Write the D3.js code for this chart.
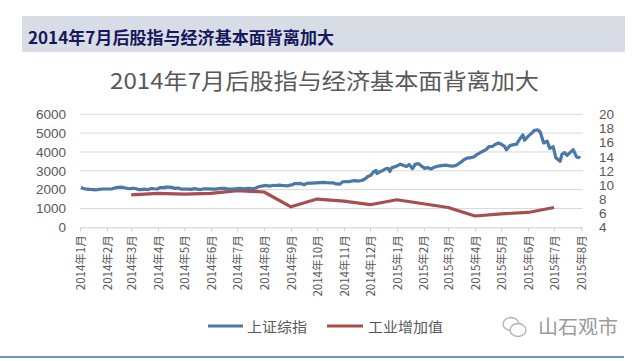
<!DOCTYPE html>
<html><head><meta charset="utf-8">
<script src="https://cdn.jsdelivr.net/npm/d3@7"></script>
<style>
html,body{margin:0;padding:0;background:#fff;}
svg{display:block;}
</style></head>
<body>
<script>
// ---- data ----
const headerText = "2014年7月后股指与经济基本面背离加大";
const chartTitle = "2014年7月后股指与经济基本面背离加大";
const seriesNames = ["上证综指", "工业增加值"];
const watermark = "山石观市";
const leftTicks = [0, 1000, 2000, 3000, 4000, 5000, 6000];
const rightTicks = [4, 6, 8, 10, 12, 14, 16, 18, 20];
const monthLabels = ["2014年1月","2014年2月","2014年3月","2014年4月","2014年5月","2014年6月","2014年7月","2014年8月","2014年9月","2014年10月","2014年11月","2014年12月","2015年1月","2015年2月","2015年3月","2015年4月","2015年5月","2015年6月","2015年7月","2015年8月"];

// 上证综指 (date, close)
const indexDates = ["2014-01-02","2014-01-06","2014-01-09","2014-01-13","2014-01-16","2014-01-20","2014-01-23","2014-01-27","2014-01-30","2014-02-07","2014-02-11","2014-02-14","2014-02-18","2014-02-20","2014-02-24","2014-02-27","2014-03-03","2014-03-06","2014-03-10","2014-03-12","2014-03-17","2014-03-20","2014-03-24","2014-03-27","2014-03-31","2014-04-03","2014-04-08","2014-04-10","2014-04-14","2014-04-17","2014-04-21","2014-04-24","2014-04-28","2014-04-30","2014-05-06","2014-05-09","2014-05-13","2014-05-16","2014-05-20","2014-05-23","2014-05-27","2014-05-30","2014-06-04","2014-06-06","2014-06-10","2014-06-13","2014-06-17","2014-06-20","2014-06-24","2014-06-27","2014-06-30","2014-07-03","2014-07-07","2014-07-10","2014-07-14","2014-07-17","2014-07-22","2014-07-24","2014-07-28","2014-07-31","2014-08-04","2014-08-07","2014-08-11","2014-08-14","2014-08-18","2014-08-21","2014-08-25","2014-08-28","2014-08-29","2014-09-03","2014-09-05","2014-09-09","2014-09-12","2014-09-16","2014-09-19","2014-09-23","2014-09-26","2014-09-30","2014-10-09","2014-10-13","2014-10-16","2014-10-20","2014-10-23","2014-10-27","2014-10-30","2014-10-31","2014-11-04","2014-11-07","2014-11-11","2014-11-14","2014-11-18","2014-11-21","2014-11-24","2014-11-27","2014-11-28","2014-12-02","2014-12-05","2014-12-08","2014-12-09","2014-12-12","2014-12-16","2014-12-19","2014-12-22","2014-12-24","2014-12-26","2014-12-31","2015-01-05","2015-01-08","2015-01-12","2015-01-15","2015-01-19","2015-01-22","2015-01-26","2015-01-29","2015-02-02","2015-02-05","2015-02-09","2015-02-12","2015-02-17","2015-02-26","2015-03-03","2015-03-06","2015-03-10","2015-03-13","2015-03-17","2015-03-20","2015-03-24","2015-03-27","2015-03-31","2015-04-03","2015-04-08","2015-04-10","2015-04-14","2015-04-17","2015-04-21","2015-04-24","2015-04-28","2015-04-30","2015-05-05","2015-05-07","2015-05-11","2015-05-14","2015-05-19","2015-05-22","2015-05-26","2015-05-28","2015-06-01","2015-06-04","2015-06-08","2015-06-12","2015-06-15","2015-06-19","2015-06-23","2015-06-26","2015-06-30","2015-07-03","2015-07-08","2015-07-10","2015-07-13","2015-07-16","2015-07-20","2015-07-23","2015-07-27","2015-07-30","2015-07-31"];
const indexValues = [2109,2045,2028,2009,2004,1992,2017,2033,2033,2044,2104,2115,2131,2114,2076,2047,2075,2059,1999,1997,2024,1993,2066,2046,2033,2105,2109,2134,2131,2105,2065,2089,2020,2026,2028,2011,2051,2026,2005,2035,2041,2039,2024,2029,2052,2071,2066,2026,2034,2036,2048,2064,2059,2038,2066,2055,2075,2124,2178,2201,2223,2188,2221,2219,2239,2226,2214,2195,2217,2267,2327,2318,2331,2255,2329,2343,2347,2364,2389,2366,2356,2356,2302,2290,2391,2420,2430,2418,2469,2478,2456,2487,2532,2630,2683,2763,2938,3020,2856,2938,3021,3108,3128,2968,3157,3235,3351,3294,3229,3336,3116,3343,3383,3262,3129,3174,3095,3173,3246,3298,3263,3241,3286,3373,3502,3617,3691,3691,3748,3864,3995,4034,4135,4287,4293,4394,4476,4441,4298,4112,4333,4375,4417,4658,4910,4620,4828,4947,5131,5178,5062,4478,4576,4192,4277,3687,3507,3878,3970,3823,3992,4124,3725,3705,3664];

// 工业增加值 (%)
const ivaDates = ["2014-03-01","2014-04-01","2014-05-01","2014-06-01","2014-07-01","2014-08-01","2014-09-01","2014-10-01","2014-11-01","2014-12-01","2015-01-01","2015-03-01","2015-04-01","2015-05-01","2015-06-01","2015-07-01"];
const ivaValues = [8.6,8.8,8.7,8.8,9.2,9.0,6.9,8.0,7.7,7.2,7.9,6.8,5.6,5.9,6.1,6.8];

// ---- drawing ----
const W = 640, H = 361;
const parse = d3.timeParse("%Y-%m-%d");
const svg = d3.select("body").append("svg").attr("width", W).attr("height", H);
const cjk = "'Noto Sans CJK SC', 'Noto Sans', sans-serif";
const grey = "#595959";

// header band
svg.append("rect").attr("x", 22).attr("y", 16).attr("width", 603).attr("height", 36).attr("fill", "#d7dce5");
svg.append("text").attr("x", 28).attr("y", 44).text(headerText)
  .attr("font-family", cjk).attr("font-size", 16.5).attr("font-weight", 700).attr("fill", "#17175e")
  .attr("textLength", 306).attr("lengthAdjust", "spacingAndGlyphs");

// chart title
svg.append("text").attr("x", 110).attr("y", 89).text(chartTitle)
  .attr("font-family", cjk).attr("font-size", 22).attr("fill", grey)
  .attr("textLength", 429).attr("lengthAdjust", "spacingAndGlyphs");

const x = d3.scaleTime().domain([new Date(2014, 0, 1), new Date(2015, 7, 1)]).range([80, 581]);
const yL = d3.scaleLinear().domain([0, 6000]).range([227.3, 114.3]);
const yR = d3.scaleLinear().domain([4, 20]).range([227.3, 114.3]);

// gridlines
svg.append("g").selectAll("line").data(leftTicks.filter(d => d > 0)).join("line")
  .attr("x1", 80).attr("x2", 583).attr("y1", d => yL(d)).attr("y2", d => yL(d))
  .attr("stroke", "#d9d9d9").attr("stroke-width", 1);

// left axis
const gL = svg.append("g").attr("transform", "translate(80,0)")
  .call(d3.axisLeft(yL).tickValues(leftTicks).tickFormat(d3.format("d")).tickSize(0).tickPadding(14));
gL.select(".domain").remove();
gL.selectAll("text").attr("font-family", "'Liberation Sans', Arial, sans-serif").attr("font-size", 13.5).attr("fill", grey);

// right axis
const gR = svg.append("g").attr("transform", "translate(583,0)")
  .call(d3.axisRight(yR).tickValues(rightTicks).tickFormat(d3.format("d")).tickSize(0).tickPadding(16));
gR.select(".domain").remove();
gR.selectAll("text").attr("font-family", "'Liberation Sans', Arial, sans-serif").attr("font-size", 13.5).attr("fill", grey);

// bottom axis
const monthDates = d3.timeMonth.range(new Date(2014, 0, 1), new Date(2015, 7, 2));
const gX = svg.append("g").attr("transform", `translate(0,${yL(0)})`)
  .call(d3.axisBottom(x).tickValues(monthDates).tickFormat((d, i) => monthLabels[i]).tickSizeInner(4).tickSizeOuter(0));
gX.select(".domain").attr("stroke", "#d0d0d0").attr("d", "M80,0.5H583");
gX.selectAll(".tick line").attr("stroke", "#d0d0d0");
gX.selectAll("text")
  .attr("font-family", cjk).attr("font-size", 11.5).attr("fill", grey)
  .attr("text-anchor", "end").attr("transform", "rotate(-90)")
  .attr("x", -8).attr("y", 0).attr("dy", "0.36em");

// lines
const indexData = indexDates.map((d, i) => ({ date: parse(d), v: indexValues[i] }));
const ivaData = ivaDates.map((d, i) => ({ date: parse(d), v: ivaValues[i] }));
const blue = "#4a78a8", red = "#a84e4e";

svg.append("path").datum(ivaData)
  .attr("d", d3.line().x(d => x(d.date)).y(d => yR(d.v)))
  .attr("fill", "none").attr("stroke", red).attr("stroke-width", 3.2).attr("stroke-linejoin", "round");
svg.append("path").datum(indexData)
  .attr("d", d3.line().x(d => x(d.date)).y(d => yL(d.v)))
  .attr("fill", "none").attr("stroke", blue).attr("stroke-width", 3.2).attr("stroke-linejoin", "round");

// legend
const legend = svg.append("g").attr("font-family", cjk).attr("font-size", 14).attr("fill", grey);
legend.append("line").attr("x1", 208).attr("x2", 243).attr("y1", 326).attr("y2", 326).attr("stroke", blue).attr("stroke-width", 3);
legend.append("text").attr("x", 247).attr("y", 332).text(seriesNames[0]).attr("textLength", 60).attr("lengthAdjust", "spacingAndGlyphs");
legend.append("line").attr("x1", 327).attr("x2", 363).attr("y1", 326).attr("y2", 326).attr("stroke", red).attr("stroke-width", 3);
legend.append("text").attr("x", 368).attr("y", 332).text(seriesNames[1]).attr("textLength", 75).attr("lengthAdjust", "spacingAndGlyphs");

// watermark (wechat-like icon + text)
const wm = svg.append("g").attr("fill", "none").attr("stroke", "#b0b0b0").attr("stroke-width", 1.3);
wm.append("ellipse").attr("cx", 511).attr("cy", 324).attr("rx", 8).attr("ry", 6.5);
wm.append("ellipse").attr("cx", 518).attr("cy", 330).attr("rx", 8).attr("ry", 6.5).attr("fill", "#fff");
svg.append("text").attr("x", 538).attr("y", 334).text(watermark)
  .attr("font-family", cjk).attr("font-size", 19).attr("fill", "#9a9a9a")
  .attr("textLength", 80).attr("lengthAdjust", "spacingAndGlyphs");

// bottom rule
svg.append("line").attr("x1", 0).attr("x2", 624).attr("y1", 357).attr("y2", 357).attr("stroke", "#6d9bb0").attr("stroke-width", 2);
</script>
</body></html>
